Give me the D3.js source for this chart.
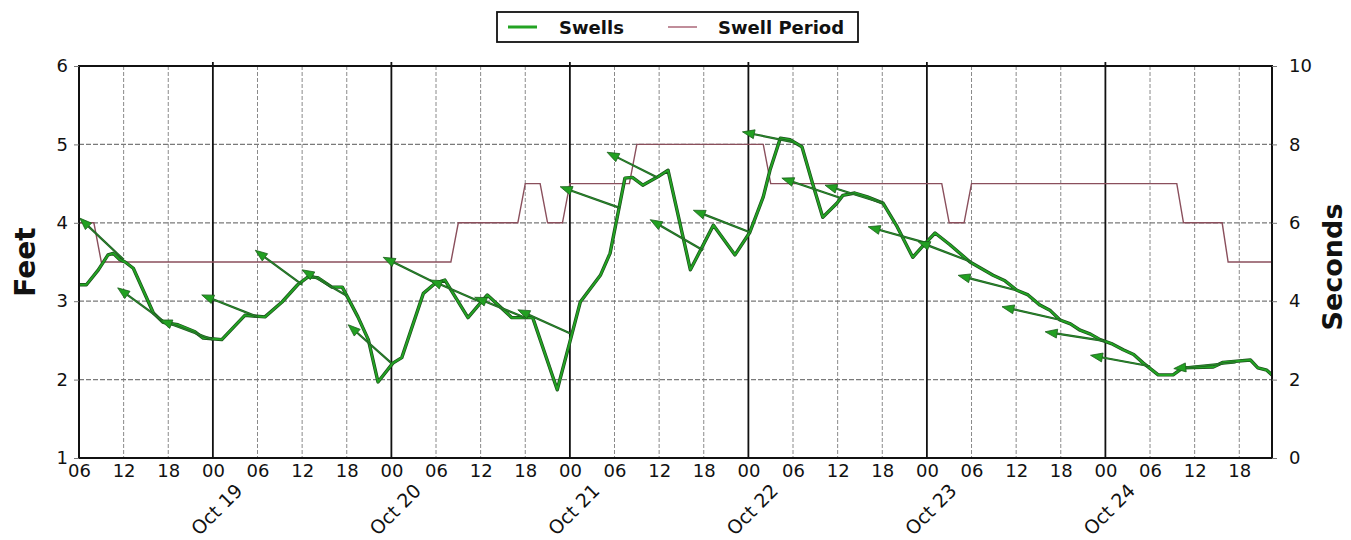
<!DOCTYPE html>
<html><head><meta charset="utf-8">
<script src="https://cdn.jsdelivr.net/npm/d3@7/dist/d3.min.js"></script>
<style>body{margin:0;background:#fff} text{font-family:"DejaVu Sans",sans-serif}</style>
</head><body><svg id="c" width="1351" height="540"></svg>
<script>
// time in hours since Oct 18 00:00
const swellHours = [6,7,8.6,9.9,10.6,11.5,12.2,13.3,16,17.3,19.3,21.6,22.7,25.2,28.3,31,33.3,35.4,36.8,38.1,40,41.4,43.5,44.9,46.2,48.2,49.4,52.3,53.9,55.2,58.3,60.9,64.2,67,70.3,72.3,73.4,76.1,77.4,79.4,80.4,81.8,83.7,85.2,88.2,91.3,94.2,96.2,98,98.9,100.3,101.6,103.2,104.6,106,107.9,108.7,110.3,112,114.1,116,118.1,119.8,121.1,123.1,125.8,128.9,130.5,132.1,133.6,135.2,136.6,137.9,139.3,140.6,142,143.3,144.8,146.4,147.8,149.1,151.1,153.1,154.4,158.5,159.8,163.5,164.5,165.7,166.4];
const swellFeet  = [3.21,3.21,3.40,3.59,3.61,3.53,3.50,3.42,2.85,2.73,2.70,2.61,2.53,2.51,2.82,2.80,2.99,3.21,3.31,3.30,3.18,3.18,2.80,2.51,1.97,2.21,2.28,3.10,3.23,3.27,2.79,3.08,2.79,2.79,1.87,2.59,2.99,3.33,3.61,4.57,4.58,4.48,4.58,4.67,3.40,3.97,3.59,3.88,4.33,4.67,5.08,5.06,4.97,4.51,4.07,4.25,4.35,4.38,4.33,4.25,3.95,3.56,3.74,3.87,3.72,3.50,3.33,3.26,3.14,3.08,2.95,2.88,2.76,2.71,2.63,2.58,2.51,2.46,2.38,2.32,2.21,2.06,2.06,2.15,2.16,2.22,2.25,2.15,2.12,2.06];

const periodHours   = [6,8,9,56,57,65,66,68,69,71,72,80,81,98,99,122,123,125,126,153.6,154.5,159.7,160.5,166.4];
const periodSeconds = [6,6,5,5,6,6,7,7,6,6,7,7,8,8,7,7,6,6,7,7,6,6,5,5];

// direction arrows: tail on the swell line, tip up-left
const arrowTailHours = [12,18,24,30,36,42,48,54,60,66,72,78.7,83.7,89.9,96.2,102,108.3,114.1,120,126,132,138,144,150,161.5];
const arrowTailFeet  = [3.53,2.70,2.51,2.80,3.21,3.07,2.21,3.23,2.99,2.79,2.59,4.19,4.58,3.65,3.88,5.03,4.32,4.25,3.74,3.50,3.14,2.76,2.49,2.17,2.22];
const arrowTipHours  = [6.1,11.2,16.9,22.5,29.7,36,42.2,46.9,53.2,59.2,65,70.7,77,82.8,88.6,95.2,100.5,106.3,112.1,118.8,124.2,130.1,135.9,142,153.2];
const arrowTipFeet   = [4.06,3.17,2.76,3.08,3.65,3.40,2.70,3.56,3.27,3.05,2.89,4.46,4.90,4.04,4.16,5.16,4.57,4.48,3.95,3.76,3.33,2.93,2.61,2.31,2.14];

const hourTicks = [6,12,18,24,30,36,42,48,54,60,66,72,78,84,90,96,102,108,114,120,126,132,138,144,150,156,162];
const hourTickLabels = ["06","12","18","00","06","12","18","00","06","12","18","00","06","12","18","00","06","12","18","00","06","12","18","00","06","12","18"];
const dayHours = [24,48,72,96,120,144];
const dayLabels = ["Oct 19","Oct 20","Oct 21","Oct 22","Oct 23","Oct 24"];
const feetTicks = [1,2,3,4,5,6];
const secondTicks = [0,2,4,6,8,10];

const L=79, R=1272, T=66, B=458;
const svg = d3.select("#c");
const x = d3.scaleLinear().domain([6,166.4]).range([L,R]);
const yF = d3.scaleLinear().domain([1,6]).range([B,T]);
const yS = d3.scaleLinear().domain([0,10]).range([B,T]);

// grid
const g = svg.append("g");
g.selectAll(".vg").data(hourTicks.filter(h=>!dayHours.includes(h))).enter().append("line")
  .attr("x1",d=>x(d)).attr("x2",d=>x(d)).attr("y1",T).attr("y2",B)
  .attr("stroke","#8a8a8a").attr("stroke-width",1).attr("stroke-dasharray","4,2");
g.selectAll(".hg").data([2,3,4,5]).enter().append("line")
  .attr("x1",L).attr("x2",R).attr("y1",d=>yF(d)).attr("y2",d=>yF(d))
  .attr("stroke","#7a7a7a").attr("stroke-width",1.2).attr("stroke-dasharray","5,2");
g.selectAll(".dg").data(dayHours).enter().append("line")
  .attr("x1",d=>x(d)).attr("x2",d=>x(d)).attr("y1",T-4).attr("y2",B)
  .attr("stroke","#111").attr("stroke-width",1.8);

// period line
svg.append("path").datum(periodHours.map((h,i)=>[h,periodSeconds[i]]))
  .attr("d", d3.line().x(d=>x(d[0])).y(d=>yS(d[1])))
  .attr("fill","none").attr("stroke","#8a4f5c").attr("stroke-width",1.4);

// swell line (dark edge + green core)
const sw = swellHours.map((h,i)=>[h,swellFeet[i]]);
const sline = d3.line().x(d=>x(d[0])).y(d=>yF(d[1]));
svg.append("path").datum(sw).attr("d",sline).attr("fill","none")
  .attr("stroke","#1b4d1b").attr("stroke-width",3.4).attr("stroke-linejoin","round");
svg.append("path").datum(sw).attr("d",sline).attr("fill","none")
  .attr("stroke","#23a323").attr("stroke-width",2).attr("stroke-linejoin","round");

// arrows
const ag = svg.append("g");
arrowTailHours.forEach((h,i)=>{
  const x1=x(h), y1=yF(arrowTailFeet[i]), x2=x(arrowTipHours[i]), y2=yF(arrowTipFeet[i]);
  const a = Math.atan2(y2-y1, x2-x1);
  const len=12, wid=4.5;
  const bx = x2-len*Math.cos(a), by = y2-len*Math.sin(a);
  ag.append("line").attr("x1",x1).attr("y1",y1).attr("x2",bx).attr("y2",by)
    .attr("stroke","#1e5e22").attr("stroke-width",2.2);
  ag.append("line").attr("x1",x1).attr("y1",y1).attr("x2",bx).attr("y2",by)
    .attr("stroke","#2a8a2a").attr("stroke-width",1);
  const p = [[x2,y2],[bx+wid*Math.sin(a),by-wid*Math.cos(a)],[bx-wid*Math.sin(a),by+wid*Math.cos(a)]];
  ag.append("path").attr("d","M"+p.map(q=>q.join(",")).join("L")+"Z")
    .attr("fill","#22a022").attr("stroke","#1b5e1b").attr("stroke-width",0.8);
});

// frame
svg.append("rect").attr("x",L).attr("y",T).attr("width",R-L).attr("height",B-T)
  .attr("fill","none").attr("stroke","#111").attr("stroke-width",2);

// axes
const ax1 = svg.append("g").attr("transform",`translate(${L},0)`)
  .call(d3.axisLeft(yF).tickValues(feetTicks).tickFormat(d3.format("d")).tickSize(5).tickPadding(6));
const ax2 = svg.append("g").attr("transform",`translate(${R},0)`)
  .call(d3.axisRight(yS).tickValues(secondTicks).tickFormat(d3.format("d")).tickSize(5).tickPadding(12));
const ax3 = svg.append("g").attr("transform",`translate(0,${B})`)
  .call(d3.axisBottom(x).tickValues(hourTicks).tickFormat((d,i)=>hourTickLabels[i]).tickSize(0).tickPadding(6));
[ax1,ax2,ax3].forEach(a=>{
  a.select(".domain").remove();
  a.selectAll("line").attr("stroke","#777");
  a.selectAll("text").attr("font-size",18).attr("fill","#111").style("font-family","DejaVu Sans");
});

// rotated day labels
svg.selectAll(".day").data(dayHours).enter().append("text")
  .attr("transform",(d)=>`translate(${x(d)+31},492) rotate(-45)`)
  .attr("text-anchor","end").attr("font-size",19).attr("fill","#111")
  .text((d,i)=>dayLabels[i]);

// axis titles
svg.append("text").attr("transform","translate(35,262) rotate(-90)").attr("text-anchor","middle")
  .attr("font-size",28).attr("font-weight","bold").attr("fill","#111").text("Feet");
svg.append("text").attr("transform","translate(1342,267) rotate(-90)").attr("text-anchor","middle")
  .attr("font-size",27).attr("font-weight","bold").attr("fill","#111").text("Seconds");

// legend
const lg = svg.append("g");
lg.append("rect").attr("x",497).attr("y",12).attr("width",361).attr("height",30)
  .attr("fill","#fff").attr("stroke","#111").attr("stroke-width",1.8);
lg.append("line").attr("x1",508).attr("x2",537).attr("y1",27).attr("y2",27)
  .attr("stroke","#23a323").attr("stroke-width",3);
lg.append("text").attr("x",559).attr("y",34).attr("font-size",18).attr("font-weight","bold").attr("fill","#111").text("Swells");
lg.append("line").attr("x1",668).attr("x2",697).attr("y1",27).attr("y2",27)
  .attr("stroke","#b07080").attr("stroke-width",1.6);
lg.append("text").attr("x",718).attr("y",34).attr("font-size",18).attr("font-weight","bold").attr("fill","#111").text("Swell Period");
</script></body></html>
